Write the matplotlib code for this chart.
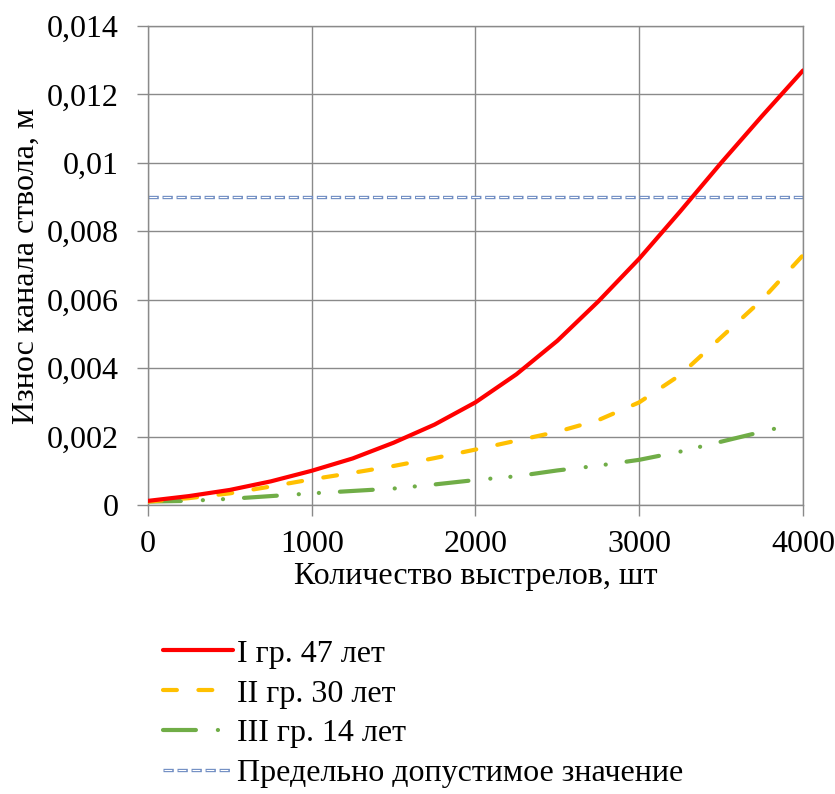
import matplotlib
matplotlib.use("Agg")
import matplotlib.pyplot as plt
from matplotlib import font_manager as fm
from matplotlib.legend_handler import HandlerTuple

# find a Times-like serif font file and register it
serif_name = 'Liberation Serif'
for f in fm.findSystemFonts():
    low = f.lower()
    if 'liberationserif-regular' in low.replace(' ', ''):
        fm.fontManager.addfont(f)
        serif_name = fm.FontProperties(fname=f).get_name()
        break

plt.rcParams['font.family'] = [serif_name, 'DejaVu Serif']
plt.rcParams['lines.scale_dashes'] = False

# shots fired
shots = [0, 250, 500, 750, 1000, 1250, 1500, 1750, 2000, 2250, 2500, 2750,
         3000, 3250, 3500, 3750, 4000]
# wear of the bore, m
wear_47 = [0.00012, 0.00026, 0.00044, 0.00069, 0.0010, 0.00136, 0.00182, 0.00235,
           0.0030, 0.00382, 0.0048, 0.00595, 0.0072, 0.00858, 0.0100, 0.01137, 0.0127]
wear_30 = [0.0001, 0.0002, 0.00034, 0.00054, 0.00075, 0.00094, 0.00114, 0.00137,
           0.00162, 0.00188, 0.00214, 0.00248, 0.0030, 0.0038, 0.0049, 0.0060, 0.0073]
shots_14 = [0, 250, 500, 750, 1000, 1250, 1500, 1750, 2000, 2250, 2500, 2750,
            3000, 3250, 3500, 3750, 3880]
wear_14 = [0.0001, 0.00012, 0.00018, 0.00026, 0.00034, 0.00041, 0.00048, 0.0006,
           0.00073, 0.00084, 0.00101, 0.00115, 0.00132, 0.00156, 0.00185, 0.00214, 0.00229]
limit_x = [0, 4000]
limit_y = [0.009, 0.009]

labels = ['I гр. 47 лет', 'II гр. 30 лет', 'III гр. 14 лет', 'Предельно допустимое значение']
yticks = [0, 0.002, 0.004, 0.006, 0.008, 0.01, 0.012, 0.014]
ytick_labels = ['0', '0,002', '0,004', '0,006', '0,008', '0,01', '0,012', '0,014']
xticks = [0, 1000, 2000, 3000, 4000]

fig = plt.figure(figsize=(8.35, 7.94), dpi=100)
ax = fig.add_axes([0.1772, 0.364, 0.7845, 0.6033])

grid_c = '#8a8a8a'

l1, = ax.plot(shots, wear_47, color='#ff0000', lw=3, solid_capstyle='round',
              solid_joinstyle='round', zorder=5)
l2, = ax.plot(shots, wear_30, color='#ffc000', lw=3, dash_capstyle='round',
              linestyle=(0, (10, 15.5)), zorder=4)
l3, = ax.plot(shots_14, wear_14, color='#70ad47', lw=3, dash_capstyle='round',
              linestyle=(0, (23.7, 15.8, 0.1, 14.4, 0.1, 15.1)), zorder=3)
l4, = ax.plot(limit_x, limit_y, color='#6f8cc2', lw=2.4, dash_capstyle='butt',
              linestyle=(0, (7.4, 2.7)), zorder=2)
l4w, = ax.plot(limit_x, limit_y, color='white', lw=0.8, dash_capstyle='butt',
               linestyle=(9.4, (5.6, 4.5)), zorder=2)

ax.set_xlim(0, 4000)
ax.set_ylim(0, 0.014)
ax.set_xticks(xticks)
ax.set_xticklabels([str(v) for v in xticks])
ax.set_yticks(yticks)
ax.set_yticklabels(ytick_labels)
ax.grid(True, color=grid_c, lw=1)
ax.set_axisbelow(True)
for s in ax.spines.values():
    s.set_color(grid_c)
    s.set_linewidth(1)
ax.tick_params(axis='both', colors=grid_c, labelcolor='black', labelsize=23,
               length=8, width=1)
ax.tick_params(axis='y', pad=13)
ax.tick_params(axis='x', pad=10)

ax.set_xlabel('Количество выстрелов, шт', fontsize=23, labelpad=2)
ax.set_ylabel('Износ канала ствола, м', fontsize=23, labelpad=4)

leg = fig.legend([l1, l2, l3, (l4, l4w)], labels, loc='upper left',
                 bbox_to_anchor=(0.1796, 0.211), frameon=False, fontsize=23,
                 handlelength=2.19, handletextpad=0.126, labelspacing=0.33,
                 borderaxespad=0, handler_map={tuple: HandlerTuple(ndivide=1)})

fig.savefig('out.png', dpi=100)
